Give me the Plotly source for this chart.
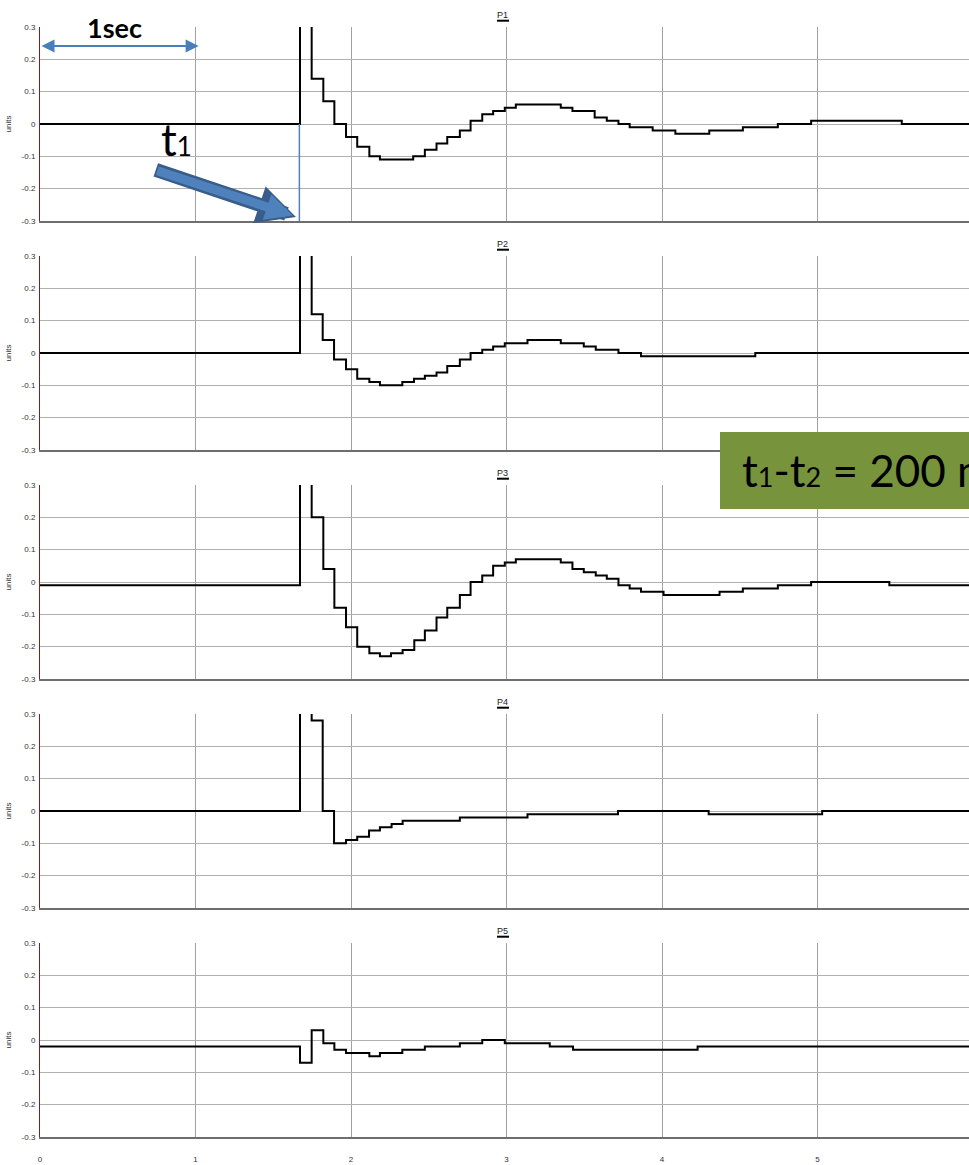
import plotly.graph_objects as go
from plotly.subplots import make_subplots

# step traces: time of each level change (s) and the level held from that time on
# 0.5 marks the spike that runs off the top of the scale
p1_t = [0, 1.672, 1.747, 1.822, 1.893, 1.968, 2.04, 2.118, 2.186, 2.40, 2.475, 2.55, 2.619, 2.70,
        2.769, 2.844, 2.914, 2.989, 3.06, 3.349, 3.424, 3.567, 3.645, 3.72, 3.792, 3.94, 4.086,
        4.304, 4.52, 4.745, 4.959, 5.542, 6.1]
p1_v = [0, 0.5, 0.14, 0.07, 0, -0.04, -0.07, -0.10, -0.11, -0.10, -0.08, -0.06, -0.04, -0.02,
        0.01, 0.03, 0.04, 0.05, 0.06, 0.05, 0.04, 0.02, 0.01, 0, -0.01, -0.02, -0.03,
        -0.02, -0.01, 0, 0.01, 0, 0]

p2_t = [0, 1.672, 1.747, 1.818, 1.891, 1.968, 2.04, 2.118, 2.186, 2.33, 2.405, 2.475, 2.55, 2.619,
        2.70, 2.769, 2.844, 2.914, 2.989, 3.135, 3.349, 3.497, 3.574, 3.72, 3.865, 4.60, 6.1]
p2_v = [0, 0.5, 0.12, 0.04, -0.02, -0.05, -0.08, -0.09, -0.10, -0.09, -0.08, -0.07, -0.06, -0.04,
        -0.02, 0, 0.01, 0.02, 0.03, 0.04, 0.03, 0.02, 0.01, 0, -0.01, 0, 0]

p3_t = [0, 1.672, 1.747, 1.822, 1.893, 1.968, 2.04, 2.118, 2.186, 2.257, 2.332, 2.407, 2.475, 2.55,
        2.619, 2.70, 2.769, 2.844, 2.914, 2.989, 3.06, 3.349, 3.424, 3.497, 3.574, 3.645, 3.72,
        3.792, 3.865, 4.01, 4.37, 4.52, 4.745, 4.959, 5.462, 6.1]
p3_v = [-0.01, 0.5, 0.20, 0.04, -0.08, -0.14, -0.20, -0.22, -0.23, -0.22, -0.21, -0.18, -0.15, -0.11,
        -0.08, -0.04, 0, 0.02, 0.05, 0.06, 0.07, 0.06, 0.04, 0.03, 0.02, 0.01, -0.01,
        -0.02, -0.03, -0.04, -0.03, -0.02, -0.01, 0, -0.01, -0.01]

p4_t = [0, 1.672, 1.747, 1.818, 1.891, 1.968, 2.04, 2.116, 2.186, 2.261, 2.332, 2.70, 3.135,
        3.717, 4.30, 5.03, 6.1]
p4_v = [0, 0.5, 0.28, 0, -0.10, -0.09, -0.08, -0.06, -0.05, -0.04, -0.03, -0.02, -0.01,
        0, -0.01, 0, 0]

p5_t = [0, 1.672, 1.747, 1.822, 1.893, 1.968, 2.118, 2.186, 2.33, 2.475, 2.70, 2.844, 2.989,
        3.278, 3.428, 4.229, 6.1]
p5_v = [-0.02, -0.07, 0.03, -0.01, -0.03, -0.04, -0.05, -0.04, -0.03, -0.02, -0.01, 0, -0.01,
        -0.02, -0.03, -0.02, -0.02]

names = ["P1", "P2", "P3", "P4", "P5"]
series = [(p1_t, p1_v), (p2_t, p2_v), (p3_t, p3_v), (p4_t, p4_v), (p5_t, p5_v)]
y_ticks = [-0.3, -0.2, -0.1, 0, 0.1, 0.2, 0.3]
y_ticktext = ["-0.3", "-0.2", "-0.1", "0", "0.1", "0.2", "0.3"]
x_ticks = [0, 1, 2, 3, 4, 5]
t1 = 1.668

W, H = 969, 1165
T, B, L = 27, 28, 40
PW = W - L
PH = H - T - B
GAP = 35
PX_PER_SEC = 155.5


def px_x(p):  # window px -> paper x
    return (p - L) / PW


def px_y(p):  # window px -> paper y
    return (H - B - p) / PH


fig = make_subplots(rows=5, cols=1, shared_xaxes=True, vertical_spacing=GAP / PH)

for i, (name, (t, v)) in enumerate(zip(names, series)):
    fig.add_trace(go.Scatter(x=t, y=v, mode="lines", line=dict(color="black", width=2, shape="hv"),
                             name=name, showlegend=False), row=i + 1, col=1)

tickfont = dict(family="Liberation Sans, Arial", size=8, color="#333333")
fig.update_xaxes(range=[0, PW / PX_PER_SEC], tickvals=x_ticks, showgrid=True, gridcolor="#a0a0a0",
                 gridwidth=1, zeroline=False, showline=True, linecolor="#6e6e6e", linewidth=2,
                 tickfont=tickfont, ticks="", ticklabelstandoff=13, automargin=False)
fig.update_yaxes(range=[-0.3, 0.3], tickvals=y_ticks, ticktext=y_ticktext, showgrid=True,
                 gridcolor="#b0b0b0", gridwidth=1, zeroline=False, showline=True, linecolor="#8b1a1a",
                 linewidth=1, tickfont=tickfont, ticks="", ticklabelstandoff=2, automargin=False,
                 title=dict(text="units", font=dict(family="Liberation Sans, Arial", size=8, color="#333333"),
                            standoff=8))

shapes = []
annotations = []
for i, name in enumerate(names):
    dom = fig.layout["yaxis" if i == 0 else f"yaxis{i + 1}"].domain
    top = dom[1]
    annotations.append(dict(text=name, x=px_x(502), y=top, xref="paper", yref="paper", xanchor="center",
                            yanchor="middle", yshift=12, showarrow=False,
                            font=dict(family="Liberation Sans, Arial", size=9, color="#222222")))
    shapes.append(dict(type="line", xref="paper", yref="paper", x0=px_x(497), x1=px_x(509),
                       y0=top + 6.3 / PH, y1=top + 6.3 / PH, line=dict(color="black", width=2)))

# t1 marker line in P1
shapes.append(dict(type="line", xref="x", yref="y", x0=t1, x1=t1, y0=0, y1=-0.3,
                   line=dict(color="#4f81bd", width=1.5)))

# green note box (runs off the right edge, as in the original)
shapes.append(dict(type="rect", xref="paper", yref="paper", x0=px_x(720), x1=1.2,
                   y0=px_y(509), y1=px_y(432), fillcolor="#77933c", line=dict(width=0)))

calibri = "Lato, Noto Sans, sans-serif"
annotations.append(dict(text="t<span style='font-size:27px'>1</span>-t<span style='font-size:27px'>2</span> = 200 ms",
                        xref="paper", yref="paper", x=px_x(740), y=px_y(470),
                        xanchor="left", yanchor="middle", showarrow=False,
                        font=dict(family=calibri, size=44, color="black")))

# 1 sec scale arrow
annotations.append(dict(text="<b>1sec</b>", xref="paper", yref="paper", x=px_x(114), y=px_y(28),
                        xanchor="center", yanchor="middle", showarrow=False,
                        font=dict(family=calibri, size=27, color="black")))
annotations.append(dict(text="", xref="x", yref="y", axref="x", ayref="y", x=1.02, y=0.241, ax=0, ay=0.241,
                        showarrow=True, arrowside="end+start", arrowhead=2, startarrowhead=2,
                        arrowsize=1.3, startarrowsize=1.3, arrowwidth=2, arrowcolor="#4a7ebb"))

# t1 label and thick arrow
annotations.append(dict(text="t<span style='font-size:26px'>1</span>", xref="paper", yref="paper",
                        x=px_x(176), y=px_y(139), xanchor="center", yanchor="middle", showarrow=False,
                        font=dict(family=calibri, size=44, color="black")))
annotations.append(dict(text="", xref="x", yref="y", axref="x", ayref="y", x=1.646, y=-0.288,
                        ax=0.735, ay=-0.14, showarrow=True, arrowhead=2, arrowsize=0.55,
                        arrowwidth=14, arrowcolor="#385d8a"))
annotations.append(dict(text="", xref="x", yref="y", axref="x", ayref="y", x=1.625, y=-0.283,
                        ax=0.745, ay=-0.143, showarrow=True, arrowhead=2, arrowsize=0.6,
                        arrowwidth=9, arrowcolor="#4f81bd"))

fig.update_layout(width=W, height=H, margin=dict(l=L, r=0, t=T, b=B), plot_bgcolor="white",
                  paper_bgcolor="white", shapes=shapes, annotations=annotations, showlegend=False)

# drop the browser's default 8px body margin so the figure fills the window
fig.write_html("out.html", config={"displayModeBar": False},
               post_script="document.body.style.margin='0';")
